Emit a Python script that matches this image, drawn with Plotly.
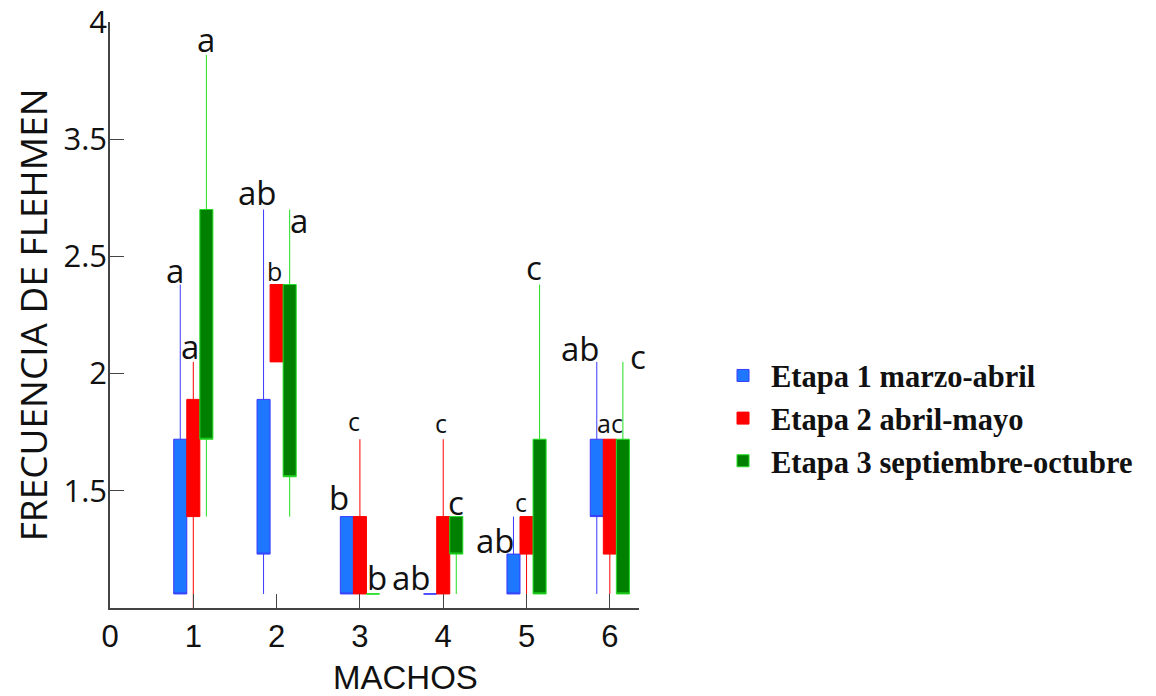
import plotly.graph_objects as go

# ---------------- data ----------------
machos = [1, 2, 3, 4, 5, 6]
series_names = ["Etapa 1 marzo-abril", "Etapa 2 abril-mayo", "Etapa 3 septiembre-octubre"]

etapa1_low = [1.06, 1.06, 1.06, 1.06, 1.06, 1.06]
etapa1_q1 = [1.06, 1.23, 1.06, 1.06, 1.06, 1.39]
etapa1_q3 = [1.72, 1.89, 1.39, 1.06, 1.23, 1.72]
etapa1_high = [2.38, 2.70, 1.39, 1.06, 1.39, 2.05]
etapa1_letters = ["a", "ab", "b", "ab", "ab", "ab"]

etapa2_low = [1.00, 2.05, 1.06, 1.06, 1.06, 1.06]
etapa2_q1 = [1.39, 2.05, 1.06, 1.06, 1.23, 1.23]
etapa2_q3 = [1.89, 2.38, 1.39, 1.39, 1.39, 1.72]
etapa2_high = [2.05, 2.38, 1.72, 1.72, 1.39, 1.72]
etapa2_letters = ["a", "b", "c", "c", "c", "ac"]

etapa3_low = [1.39, 1.39, 1.06, 1.06, 1.06, 1.06]
etapa3_q1 = [1.72, 1.56, 1.06, 1.23, 1.06, 1.06]
etapa3_q3 = [2.70, 2.38, 1.06, 1.39, 1.72, 1.72]
etapa3_high = [3.36, 2.70, 1.06, 1.39, 2.38, 2.05]
etapa3_letters = ["a", "a", "b", "c", "c", "c"]

y_tickvals = [1.5, 2, 2.5, 3, 3.5]
y_ticktext = ["1.5", "2", "2.5", "3.5", "4"]
x_tickvals = [0, 1, 2, 3, 4, 5, 6]
x_title = "MACHOS"
y_title = "FRECUENCIA DE FLEHMEN"

# ---------------- style ----------------
line_colors = ["#3a3aff", "#ff0000", "#22dd22"]
fill_colors = ["#1e78ff", "#ff0000", "#008000"]
box_offsets_px = [-13, 0, 13]
BIG, SMALL = 33, 25
# label offsets (dx, dy in px, size) relative to whisker top
label_style = [
    [(-5, -14, BIG), (-6, -17, BIG), (-8, -19, BIG), (-19, -16, BIG), (-18, 24, BIG), (-16, -13, BIG)],
    [(-3, -15, BIG), (-2, -14, SMALL), (-6, -18, SMALL), (-2, -16, SMALL), (-6, -15, SMALL), (0, -16, SMALL)],
    [(0, -15, BIG), (9, 11, BIG), (4, -16, BIG), (0, -14, BIG), (-6, -17, BIG), (15, -5, BIG)],
]

lows = [etapa1_low, etapa2_low, etapa3_low]
q1s = [etapa1_q1, etapa2_q1, etapa3_q1]
q3s = [etapa1_q3, etapa2_q3, etapa3_q3]
highs = [etapa1_high, etapa2_high, etapa3_high]
letters = [etapa1_letters, etapa2_letters, etapa3_letters]

fig = go.Figure()
for i, name in enumerate(series_names):
    fig.add_trace(go.Box(
        name=name,
        x=machos,
        lowerfence=lows[i],
        q1=q1s[i],
        median=q1s[i],
        q3=q3s[i],
        upperfence=highs[i],
        boxpoints=False,
        whiskerwidth=0,
        line=dict(color=line_colors[i], width=1),
        fillcolor=fill_colors[i],
        legendgroup=name,
        hoverinfo="skip",
    ))

annotations = []
for i in range(3):
    for j, m in enumerate(machos):
        dx, dy, size = label_style[i][j]
        annotations.append(dict(
            x=m, y=highs[i][j], xref="x", yref="y",
            text=letters[i][j], showarrow=False,
            xanchor="center", yanchor="middle",
            xshift=box_offsets_px[i] + dx, yshift=-dy,
            font=dict(family="Open Sans", size=size, color="#111111"),
        ))
annotations.append(dict(
    x=0.558, y=-0.118, xref="paper", yref="paper",
    text=x_title, showarrow=False, xanchor="center", yanchor="middle",
    font=dict(family="Liberation Sans", size=33, color="#111111"),
))
annotations.append(dict(
    x=-0.147, y=0.5, xref="paper", yref="paper",
    text=y_title, showarrow=False, xanchor="center", yanchor="middle",
    textangle=-90,
    font=dict(family="Open Sans", size=37, color="#111111"),
))

fig.update_layout(
    width=1156, height=696,
    paper_bgcolor="white", plot_bgcolor="white",
    margin=dict(l=110, r=517, t=22, b=88, autoexpand=False),
    boxmode="group", boxgap=0.53, boxgroupgap=0,
    showlegend=True,
    legend=dict(
        x=1.1437, y=0.324, xanchor="left", yanchor="middle",
        font=dict(family="Liberation Serif", size=30.5, color="#111111", weight="bold"),
        tracegroupgap=0, traceorder="grouped", itemwidth=46,
        bgcolor="rgba(0,0,0,0)",
    ),
    annotations=annotations,
)
fig.update_xaxes(
    range=[0, 6.35], tickvals=x_tickvals, ticks="inside", ticklen=14,
    tickcolor="#444444", showline=True, linecolor="#444444", linewidth=1.5,
    showgrid=False, zeroline=False, automargin=False,
    tickfont=dict(family="Liberation Sans", size=31, color="#111111"),
)
fig.update_yaxes(
    range=[1.0, 3.5], tickvals=y_tickvals, ticktext=y_ticktext,
    ticks="inside", ticklen=14, ticklabelstandoff=-5, ticklabeloverflow="allow",
    tickcolor="#444444", showline=True, linecolor="#444444", linewidth=1.5,
    showgrid=False, zeroline=False, automargin=False,
    tickfont=dict(family="Open Sans", size=31, color="#111111"),
)

fig.write_html("out.html", config={"displayModeBar": False},
               post_script="document.body.style.margin='0px';")
